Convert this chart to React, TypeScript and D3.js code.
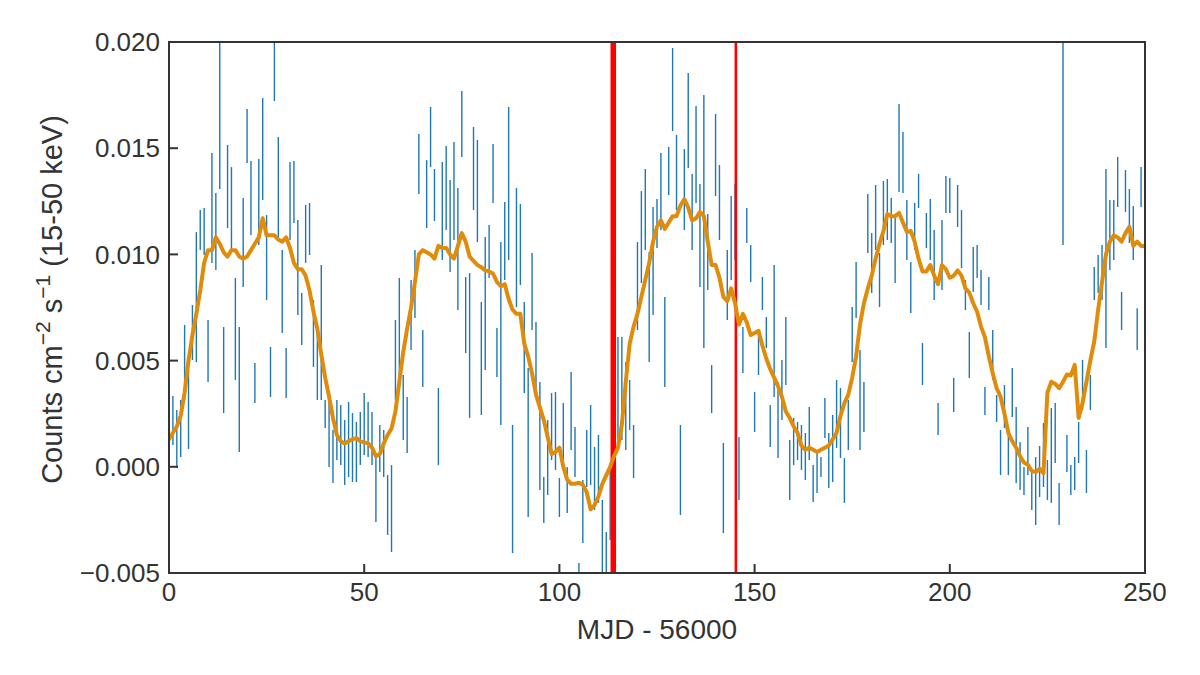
import React from 'react';
import * as d3 from 'd3';

// BAT light curve, daily bins from MJD 56000, units of 1e-3 counts cm^-2 s^-1
// upper / lower end of each error bar
const barHi = [
  3.38, 3.33, 2.67, 3.15, 6.68, 4.56, 7.62, 11.05, 12.09, 12.18,
  6.91, 14.77, 12.89, 22.0, 6.58, 15.15, 14.11, 8.89, 6.58, 12.66,
  16.85, 14.40, 4.89, 14.49, 17.36, 11.85, 5.64, 21.5, 15.53, 10.21,
  5.59, 14.35, 14.40, 11.62, 8.18, 12.33, 12.42, 7.85, 6.44, 9.50,
  3.15, 3.15, 1.73, 3.15, 2.91, 2.20, 3.05, 2.53, 2.11, 2.58,
  3.47, 3.05, 2.58, 0.46, 1.97, 1.73, -0.39, 0.08, 6.91, 8.89,
  4.32, 3.29, 8.79, 10.21, 15.67, 6.44, 14.44, 16.94, 14.02, 3.71,
  14.35, 15.10, 13.50, 15.29, 13.13, 17.69, 8.94, 9.12, 16.00, 15.39,
  7.76, 10.82, 11.38, 15.20, 6.53, 10.58, 12.47, 16.94, 1.97, 13.13,
  12.37, 7.76, 4.65, 10.07, 6.82, 3.99, -0.48, 2.20, 3.47, 3.52,
  -0.53, 3.00, -0.01, 4.46, 1.87, -4.53, -0.62, 1.73, 2.91, 0.93,
  1.50, -1.56, -3.07, -0.15, 1.26, 6.11, 6.11, 4.93, 4.09, 1.97,
  10.58, 12.98, 14.02, 10.11, 12.23, 12.61, 14.77, 8.00, 15.06, 19.72,
  15.62, 1.97, 14.96, 18.54, 13.79, 16.99, 13.31, 17.50, 11.90, 4.79,
  16.61, 14.21, 1.12, 10.21, 12.75, 13.31, 1.40, 6.58, 12.18, 10.44,
  3.52, 6.44, 8.94, 7.05, 2.91, 9.50, 3.99, 5.03, 7.05, 1.26,
  2.30, 2.11, 1.97, 1.59, 2.82, 0.08, 0.70, 0.46, 3.24, 1.59,
  2.44, 4.09, 3.71, 0.41, 3.15, 7.52, 9.64, 5.50, 3.99, 12.84,
  11.01, 13.27, 10.07, 13.46, 13.55, 12.66, 11.85, 17.08, 15.76, 12.56,
  9.64, 12.42, 13.79, 5.83, 11.95, 12.61, 11.15, 3.00, 11.62, 13.69,
  13.60, 4.18, 13.27, 12.09, 8.79, 6.35, 10.35, 10.44, 9.27, 3.76,
  8.94, 6.44, 3.38, 1.73, 3.85, 1.73, 4.65, 2.82, 1.17, -0.01,
  1.87, -0.15, 0.46, 0.98, 2.06, 0.32, 2.77, 3.00, -0.76, 28.0,
  1.50, 0.08, 0.46, 2.11, 5.03, 0.79, 4.32, 9.41, 9.97, 10.44,
  14.02, 12.56, 12.56, 14.59, 8.23, 13.97, 13.08, 12.28, 7.47, 14.11,
];

const barLo = [
  1.26, 1.03, -0.06, 0.46, 3.15, 0.84, 5.03, 4.93, 10.21, 9.97,
  3.99, 9.60, 9.27, 13.08, 2.53, 11.24, 10.21, 4.09, 0.70, 8.47,
  14.30, 10.91, 3.00, 10.44, 12.56, 7.85, 3.29, 17.22, 10.68, 6.30,
  3.24, 10.68, 11.48, 7.15, 5.73, 9.60, 9.97, 4.70, 3.15, 3.15,
  1.83, -0.01, -0.76, 0.32, 0.08, -0.86, -0.48, -0.72, -0.72, 0.08,
  0.56, 0.46, 0.08, -2.60, -0.24, -0.48, -3.21, -4.01, 3.15, 4.09,
  1.26, 0.65, 5.50, 7.01, 12.84, 3.76, 11.24, 14.11, 11.57, 0.08,
  9.74, 11.15, 9.17, 10.68, 7.38, 14.59, 5.36, 2.30, 12.09, 10.58,
  2.44, 4.56, 8.89, 12.42, 4.23, 1.97, 8.79, 9.74, -4.06, 7.52,
  8.56, 3.47, -2.36, 6.44, 3.47, -1.09, -2.65, -1.33, 0.32, -0.15,
  -2.36, -0.15, -2.18, 0.79, -0.48, -6.27, -3.59, -0.95, -0.86, -2.03,
  -1.70, -6.27, -6.27, -3.45, -1.56, 1.26, 1.26, 0.79, 1.73, -0.53,
  6.44, 8.65, 10.21, 4.93, 7.15, 10.30, 11.15, 3.76, 12.80, 15.81,
  12.09, -2.27, 11.15, 14.07, 10.21, 12.42, 8.47, 5.59, 8.32, 2.53,
  12.75, 10.68, -3.12, 6.91, 8.79, 9.74, -1.56, 4.42, 10.54, 8.70,
  1.64, 4.32, 7.38, 5.59, 0.93, 3.29, 0.41, 2.20, 3.85, -1.56,
  0.08, 0.32, -0.15, -0.62, 0.32, -1.66, -1.23, -0.48, 1.36, -1.00,
  -0.72, 0.89, 0.41, -1.70, 0.79, 4.93, 7.01, 0.79, 1.64, 10.07,
  8.18, 10.21, 7.52, 10.44, 10.68, 10.54, 8.65, 12.94, 12.89, 9.74,
  7.24, 10.21, 12.18, 3.85, 10.30, 9.74, 7.85, 1.50, 8.32, 11.95,
  11.95, 2.58, 11.29, 9.36, 7.38, 4.18, 8.23, 8.89, 7.62, 2.44,
  7.38, 4.09, 2.11, -0.39, 1.83, -0.39, 2.34, -0.76, -1.09, -1.33,
  -0.39, -2.03, -2.74, -1.42, -0.95, -1.56, -1.70, 0.18, -2.74, 10.44,
  -0.24, -1.33, -1.09, 0.18, 2.67, -1.23, 2.67, 7.85, 8.18, 7.85,
  5.59, 9.27, 9.74, 12.23, 6.44, 12.00, 10.54, 9.74, 5.50, 12.23,
];

// smoothed curve, same units, days 0..250
const smooth = [
  1.3, 1.6, 1.9, 2.4, 3.5, 5.0, 6.2, 7.2, 8.3, 9.6,
  10.2, 10.2, 10.8, 10.5, 10.1, 9.9, 10.2, 10.2, 9.9, 9.8,
  9.9, 10.2, 10.5, 10.8, 11.7, 10.9, 10.9, 10.9, 10.7, 10.6,
  10.8, 10.3, 9.6, 9.3, 9.3, 9.0, 8.3, 7.3, 6.5, 5.3,
  4.2, 3.3, 2.3, 1.5, 1.2, 1.1, 1.2, 1.3, 1.35, 1.2,
  1.15, 1.1, 0.9, 0.5, 0.6, 1.1, 1.5, 1.8, 2.6, 4.0,
  5.4, 6.5, 7.5, 8.7, 10.0, 10.2, 10.1, 10.0, 9.8, 10.4,
  10.3, 10.3, 10.0, 9.8, 10.4, 11.0, 10.6, 9.9, 9.7, 9.5,
  9.4, 9.25, 9.2, 9.1, 8.7, 8.5, 8.6, 7.9, 7.4, 7.2,
  7.2, 5.8, 5.2, 4.4, 3.4, 2.8, 2.2, 1.4, 0.6, 0.7,
  0.9, 0.0, -0.6, -0.8, -0.8, -0.75, -0.85, -1.2, -2.0, -1.8,
  -1.4, -0.8, -0.4, 0.0, 0.5, 0.9, 2.0, 4.0, 5.8, 6.6,
  7.2, 8.0, 8.8, 9.6, 10.6, 11.3, 11.6, 11.2, 11.5, 11.8,
  11.8, 12.3, 12.6, 12.2, 11.6, 11.7, 12.0, 11.8, 10.6, 9.5,
  9.5, 8.9, 8.0, 7.8, 8.4, 7.7, 6.7, 7.2, 6.8, 6.2,
  6.3, 6.4, 5.7, 5.1, 4.6, 4.2, 3.8, 3.3, 2.6, 2.3,
  1.9, 1.6, 1.0, 0.8, 0.9, 0.8, 0.7, 0.8, 0.9, 1.0,
  1.3, 1.6, 2.4, 3.0, 3.4, 4.2, 5.2, 6.7, 7.7, 8.4,
  9.0, 9.8, 10.5, 11.1, 11.9, 11.8, 11.8, 11.95, 11.5, 11.05,
  11.1, 10.6, 9.8, 9.2, 9.2, 9.5, 9.0, 8.6, 9.5, 9.3,
  8.9, 9.0, 9.25, 9.0, 8.4, 8.2, 7.7, 7.3, 6.6, 6.1,
  5.2, 4.4, 3.7, 3.3, 2.5, 1.6, 1.2, 0.9, 0.5, 0.2,
  0.1, -0.2, -0.25, -0.1, -0.3, 3.5, 4.0, 3.9, 3.7, 4.0,
  4.35, 4.3, 4.8, 2.3, 3.0, 4.0, 5.0, 5.9, 7.4, 8.7,
  10.0, 10.6, 10.9, 10.8, 10.6, 11.0, 11.3, 10.4, 10.6, 10.4,
  10.4,
];

// vertical markers (MJD - 56000)
const eventDays = [113.8, 145.2];
const eventWidths = [5.5, 2.6];

const xTicks = [0, 50, 100, 150, 200, 250];
const yTicks = [-5, 0, 5, 10, 15, 20];

const W = 1200;
const H = 675;
const margin = { top: 42, right: 55, bottom: 102, left: 169 };
const innerW = W - margin.left - margin.right;
const innerH = H - margin.top - margin.bottom;

const FONT = '"Liberation Sans", Arial, Helvetica, sans-serif';
const INK = '#333333';

const App: React.FC = () => {
  const x = d3.scaleLinear().domain([0, 250]).range([0, innerW]);
  const y = d3.scaleLinear().domain([-5, 20]).range([innerH, 0]);
  const fmt = d3.format('.3f');

  const line = d3.line<number>()
    .x((_, i) => x(i))
    .y(d => y(d))
    .curve(d3.curveLinear);

  return (
    <div style={{ position: 'absolute', left: 0, top: 0, width: W, height: H, background: '#fff' }}>
      <svg width={W} height={H} style={{ display: 'block' }} fontFamily={FONT}>
        <defs>
          <clipPath id="plot-clip">
            <rect x={0} y={0} width={innerW} height={innerH} />
          </clipPath>
        </defs>
        <g transform={`translate(${margin.left},${margin.top})`}>
          <g clipPath="url(#plot-clip)">
            {/* error bars */}
            {barHi.map((hi, i) => (
              <line
                key={i}
                x1={x(i)}
                x2={x(i)}
                y1={y(hi)}
                y2={y(barLo[i])}
                stroke="#1f77b4"
                strokeWidth={1.4}
              />
            ))}
            {/* event markers */}
            {eventDays.map((d, i) => (
              <line
                key={'ev' + i}
                x1={x(d)}
                x2={x(d)}
                y1={0}
                y2={innerH}
                stroke="#ff0000"
                strokeWidth={eventWidths[i]}
              />
            ))}
            {/* smoothed curve */}
            <path
              d={line(smooth) || ''}
              fill="none"
              stroke="#e08c0a"
              strokeWidth={4}
              strokeLinejoin="round"
              strokeLinecap="round"
            />
          </g>

          {/* frame */}
          <rect x={0} y={0} width={innerW} height={innerH} fill="none" stroke={INK} strokeWidth={2} />

          {/* y ticks */}
          {yTicks.map(t => (
            <g key={'y' + t} transform={`translate(0,${y(t)})`}>
              <line x1={0} x2={9} stroke={INK} strokeWidth={2} />
              <text
                x={-9}
                dy="0.35em"
                textAnchor="end"
                fontSize={26}
                fill={INK}
              >
                {fmt(t / 1000)}
              </text>
            </g>
          ))}

          {/* x ticks */}
          {xTicks.map(t => (
            <g key={'x' + t} transform={`translate(${x(t)},${innerH})`}>
              <line y1={0} y2={-9} stroke={INK} strokeWidth={2} />
              <text y={28} textAnchor="middle" fontSize={26} fill={INK}>
                {t}
              </text>
            </g>
          ))}

          {/* axis titles */}
          <text
            x={innerW / 2}
            y={innerH + 66}
            textAnchor="middle"
            fontSize={28}
            fill={INK}
          >
            MJD - 56000
          </text>
          <text
            transform={`translate(${52 - margin.left},${innerH / 2 - 8}) rotate(-90)`}
            textAnchor="middle"
            dy="0.35em"
            fontSize={29}
            fill={INK}
          >
            Counts cm
            <tspan dy={-12} fontSize={21}>−2</tspan>
            <tspan dy={12}> s</tspan>
            <tspan dy={-12} fontSize={21}>−1</tspan>
            <tspan dy={12}> (15-50 keV)</tspan>
          </text>
        </g>
      </svg>
    </div>
  );
};

export default App;
